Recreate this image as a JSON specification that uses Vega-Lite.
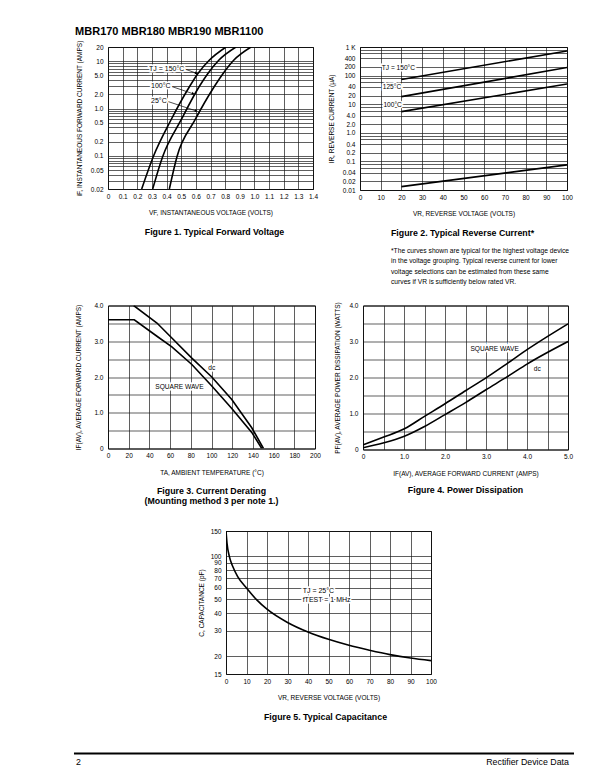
{
  "$schema": "https://vega.github.io/schema/vega-lite/v6.json",
  "background": "white",
  "padding": {"left": 73, "top": 25, "right": 5, "bottom": 5},
  "title": {"text": "MBR170 MBR180 MBR190 MBR1100", "anchor": "start", "frame": "bounds", "orient": "top", "dx": 2, "font": "Liberation Sans", "fontSize": 11, "fontWeight": "bold", "color": "black", "offset": 3},
  "config": {
    "view": {"stroke": "black", "strokeWidth": 1},
    "axis": {"domain": false, "ticks": false, "grid": true, "gridColor": "#1a1a1a", "gridWidth": 0.7, "gridOpacity": 1, "labelFont": "Liberation Sans", "labelFontSize": 6.5, "labelColor": "black", "labelOverlap": false, "labelFlush": false, "titleFont": "Liberation Sans", "titleFontSize": 6.5, "titleFontWeight": "normal", "titleColor": "black"},
    "axisX": {"labelPadding": 4, "titlePadding": 10},
    "axisY": {"labelPadding": 5, "titlePadding": 8},
    "title": {"font": "Liberation Sans", "fontSize": 8.8, "fontWeight": "bold", "color": "black", "orient": "bottom", "offset": 10, "anchor": "middle", "frame": "group"},
    "line": {"color": "black", "strokeWidth": 1.6},
    "text": {"font": "Liberation Sans", "fontSize": 6.6, "color": "black"}
  },
  "datasets": {
    "f1c": [
      {"s": "150", "x": 0.230, "y": 0.02}, {"s": "150", "x": 0.309, "y": 0.0962}, {"s": "150", "x": 0.430, "y": 0.574}, {"s": "150", "x": 0.555, "y": 2.857}, {"s": "150", "x": 0.613, "y": 5.46}, {"s": "150", "x": 0.693, "y": 10.62}, {"s": "150", "x": 0.806, "y": 20},
      {"s": "100", "x": 0.305, "y": 0.02}, {"s": "100", "x": 0.373, "y": 0.0962}, {"s": "100", "x": 0.499, "y": 0.574}, {"s": "100", "x": 0.621, "y": 2.857}, {"s": "100", "x": 0.681, "y": 5.46}, {"s": "100", "x": 0.758, "y": 10.62}, {"s": "100", "x": 0.874, "y": 20},
      {"s": "25", "x": 0.419, "y": 0.02}, {"s": "25", "x": 0.471, "y": 0.0962}, {"s": "25", "x": 0.594, "y": 0.574}, {"s": "25", "x": 0.724, "y": 2.857}, {"s": "25", "x": 0.785, "y": 5.46}, {"s": "25", "x": 0.860, "y": 10.62}, {"s": "25", "x": 0.977, "y": 20}
    ],
    "f1a": [
      {"s": "a150", "p": "start", "x": 0.528, "y": 6.79}, {"s": "a150", "p": "end", "x": 0.603, "y": 5.6},
      {"s": "a100", "p": "start", "x": 0.435, "y": 2.93}, {"s": "a100", "p": "end", "x": 0.582, "y": 2.05},
      {"s": "a25", "p": "start", "x": 0.41, "y": 1.41}, {"s": "a25", "p": "end", "x": 0.603, "y": 0.89}
    ],
    "f1t": [
      {"x": 0.28, "y": 7.0, "t": "TJ = 150°C"},
      {"x": 0.294, "y": 3.0, "t": "100°C"},
      {"x": 0.294, "y": 1.46, "t": "25°C"}
    ],
    "f2c": [
      {"s": "150", "x": 20, "y": 73.5}, {"s": "150", "x": 100, "y": 726},
      {"s": "125", "x": 20, "y": 18.4}, {"s": "125", "x": 100, "y": 191},
      {"s": "100", "x": 20, "y": 5.5}, {"s": "100", "x": 100, "y": 50.6},
      {"s": "25", "x": 20, "y": 0.0131}, {"s": "25", "x": 100, "y": 0.0759}
    ],
    "f2t": [
      {"x": 10.5, "y": 190, "t": "TJ = 150°C"},
      {"x": 11, "y": 39, "t": "125°C"},
      {"x": 11.3, "y": 9.3, "t": "100°C"}
    ],
    "f3c": [
      {"s": "dc", "x": 24.8, "y": 4.0}, {"s": "dc", "x": 47.3, "y": 3.51}, {"s": "dc", "x": 61.7, "y": 3.09}, {"s": "dc", "x": 81, "y": 2.53}, {"s": "dc", "x": 100.3, "y": 2.0}, {"s": "dc", "x": 119.6, "y": 1.37}, {"s": "dc", "x": 138.9, "y": 0.58}, {"s": "dc", "x": 150.2, "y": 0},
      {"s": "sq", "x": 0, "y": 3.6}, {"s": "sq", "x": 25.4, "y": 3.6}, {"s": "sq", "x": 47.3, "y": 3.14}, {"s": "sq", "x": 61.7, "y": 2.84}, {"s": "sq", "x": 81, "y": 2.35}, {"s": "sq", "x": 100.3, "y": 1.75}, {"s": "sq", "x": 119.6, "y": 1.12}, {"s": "sq", "x": 138.9, "y": 0.45}, {"s": "sq", "x": 148.6, "y": 0}
    ],
    "f3t": [
      {"x": 100.3, "y": 2.26, "t": "dc"},
      {"x": 69, "y": 1.72, "t": "SQUARE WAVE"}
    ],
    "f4c": [
      {"s": "sq", "x": 0, "y": 0.13}, {"s": "sq", "x": 0.49, "y": 0.34}, {"s": "sq", "x": 1.01, "y": 0.574}, {"s": "sq", "x": 1.5, "y": 0.92}, {"s": "sq", "x": 2.0, "y": 1.27}, {"s": "sq", "x": 2.51, "y": 1.64}, {"s": "sq", "x": 3.0, "y": 1.99}, {"s": "sq", "x": 3.53, "y": 2.40}, {"s": "sq", "x": 4.01, "y": 2.78}, {"s": "sq", "x": 5.0, "y": 3.49},
      {"s": "dc", "x": 0, "y": 0.05}, {"s": "dc", "x": 0.49, "y": 0.18}, {"s": "dc", "x": 1.01, "y": 0.37}, {"s": "dc", "x": 1.5, "y": 0.64}, {"s": "dc", "x": 2.0, "y": 0.97}, {"s": "dc", "x": 2.51, "y": 1.31}, {"s": "dc", "x": 3.0, "y": 1.66}, {"s": "dc", "x": 3.53, "y": 2.03}, {"s": "dc", "x": 4.01, "y": 2.38}, {"s": "dc", "x": 5.0, "y": 3.0}
    ],
    "f4t": [
      {"x": 3.21, "y": 2.8, "t": "SQUARE WAVE"},
      {"x": 4.25, "y": 2.24, "t": "dc"}
    ],
    "f5c": [
      {"x": 0, "y": 150}, {"x": 0.5, "y": 123}, {"x": 1.6, "y": 100}, {"x": 3.25, "y": 85}, {"x": 5.7, "y": 72}, {"x": 10, "y": 60}, {"x": 15, "y": 49.5}, {"x": 20, "y": 42.6}, {"x": 30, "y": 34.4}, {"x": 40, "y": 29.5}, {"x": 50, "y": 26.2}, {"x": 60, "y": 23.8}, {"x": 70, "y": 22}, {"x": 80, "y": 20.5}, {"x": 90, "y": 19.4}, {"x": 100, "y": 18.6}
    ],
    "f5t": [
      {"x": 37.4, "y": 57.5, "t": "TJ = 25°C"},
      {"x": 37.4, "y": 49, "t": "fTEST = 1 MHz"}
    ],
    "footRule": [{"a": -7.3, "b": 100, "c": 1}],
    "footText": [
      {"x": -6.87, "y": 0, "t": "2"},
      {"x": 98.9, "y": 0, "t": "Rectifier Device Data"}
    ]
  },
  "vconcat": [
    {
      "vconcat": [
        {
          "vconcat": [
            {
              "hconcat": [
                {
                  "width": 205, "height": 142,
                  "title": {"text": "Figure 1. Typical Forward Voltage", "dx": 4, "offset": 12},
                  "encoding": {
                    "x": {"field": "x", "type": "quantitative", "scale": {"domain": [0, 1.4], "nice": false, "zero": false},
                      "axis": {"title": "VF, INSTANTANEOUS VOLTAGE (VOLTS)", "values": [0, 0.1, 0.2, 0.3, 0.4, 0.5, 0.6, 0.7, 0.8, 0.9, 1, 1.1, 1.2, 1.3, 1.4], "labelExpr": "datum.value == 0 ? '0' : format(datum.value, '.1f')"}},
                    "y": {"field": "y", "type": "quantitative", "scale": {"type": "log", "domain": [0.02, 20], "nice": false},
                      "axis": {"title": "iF, INSTANTANEOUS FORWARD CURRENT (AMPS)", "values": [0.02, 0.03, 0.04, 0.05, 0.06, 0.07, 0.08, 0.09, 0.1, 0.2, 0.3, 0.4, 0.5, 0.6, 0.7, 0.8, 0.9, 1, 2, 3, 4, 5, 6, 7, 8, 9, 10, 20],
                        "labelExpr": "indexof([0.02, 0.05, 0.1, 0.2, 0.5, 1, 2, 5, 10, 20], datum.value) < 0 ? '' : datum.value >= 10 ? format(datum.value, 'd') : datum.value >= 1 ? format(datum.value, '.1f') : format(datum.value, '.2~f')"}}
                  },
                  "layer": [
                    {"data": {"name": "f1c"}, "mark": {"type": "line", "interpolate": "monotone", "clip": true}, "encoding": {"detail": {"field": "s"}}},
                    {"data": {"name": "f1a"}, "mark": {"type": "line", "strokeWidth": 0.7, "color": "black"}, "encoding": {"detail": {"field": "s"}}},
                    {"data": {"name": "f1a"}, "transform": [{"filter": "datum.p == 'end'"}], "mark": {"type": "point", "shape": "triangle-right", "filled": true, "color": "black", "opacity": 1, "size": 10, "angle": 20}},
                    {"data": {"name": "f1t"}, "mark": {"type": "text", "align": "left", "baseline": "middle", "fontSize": 7, "fill": "white", "stroke": "white", "strokeWidth": 3}, "encoding": {"text": {"field": "t"}}},
                    {"data": {"name": "f1t"}, "mark": {"type": "text", "align": "left", "baseline": "middle", "fontSize": 7}, "encoding": {"text": {"field": "t"}}}
                  ]
                },
                {
                  "width": 207, "height": 143,
                  "title": {"text": "Figure 2. Typical Reverse Current*", "anchor": "start", "dx": 31, "offset": 12,
                    "subtitle": ["*The curves shown are typical for the highest voltage device", "in the voltage grouping. Typical reverse current for lower", "voltage selections can be estimated from these same", "curves if VR is sufficiently below rated VR."],
                    "subtitleFont": "Liberation Sans", "subtitleFontSize": 6.7, "subtitleColor": "black", "subtitleLineHeight": 10.5, "subtitlePadding": 10},
                  "encoding": {
                    "x": {"field": "x", "type": "quantitative", "scale": {"domain": [0, 100], "nice": false, "zero": false},
                      "axis": {"title": "VR, REVERSE VOLTAGE (VOLTS)", "values": [0, 10, 20, 30, 40, 50, 60, 70, 80, 90, 100], "format": "d"}},
                    "y": {"field": "y", "type": "quantitative", "scale": {"type": "log", "domain": [0.01, 1000], "nice": false},
                      "axis": {"title": "IR, REVERSE CURRENT (μA)", "values": [0.01, 0.02, 0.04, 0.06, 0.08, 0.1, 0.2, 0.4, 0.6, 0.8, 1, 2, 4, 6, 8, 10, 20, 40, 60, 80, 100, 200, 400, 600, 800, 1000],
                        "labelExpr": "indexof([0.01, 0.02, 0.04, 0.1, 0.2, 0.4, 1, 2, 4, 10, 20, 40, 100, 200, 400, 1000], datum.value) < 0 ? '' : datum.value == 1000 ? '1 K' : datum.value >= 10 ? format(datum.value, 'd') : datum.value >= 1 ? format(datum.value, '.1f') : format(datum.value, '.2~f')"}}
                  },
                  "layer": [
                    {"data": {"name": "f2c"}, "mark": {"type": "line", "clip": true}, "encoding": {"detail": {"field": "s"}}},
                    {"data": {"name": "f2t"}, "mark": {"type": "text", "align": "left", "baseline": "middle", "fill": "white", "stroke": "white", "strokeWidth": 3}, "encoding": {"text": {"field": "t"}}},
                    {"data": {"name": "f2t"}, "mark": {"type": "text", "align": "left", "baseline": "middle"}, "encoding": {"text": {"field": "t"}}}
                  ]
                }
              ],
              "spacing": 8
            },
            {
              "hconcat": [
                {
                  "width": 207, "height": 143,
                  "title": {"text": ["Figure 3. Current Derating", "(Mounting method 3 per note 1.)"], "lineHeight": 10.7, "offset": 11},
                  "encoding": {
                    "x": {"field": "x", "type": "quantitative", "scale": {"domain": [0, 200], "nice": false, "zero": false},
                      "axis": {"title": "TA, AMBIENT TEMPERATURE (°C)", "values": [0, 20, 40, 60, 80, 100, 120, 140, 160, 180, 200], "format": "d"}},
                    "y": {"field": "y", "type": "quantitative", "scale": {"domain": [0, 4], "nice": false},
                      "axis": {"title": "IF(AV), AVERAGE FORWARD CURRENT (AMPS)", "titlePadding": 12, "values": [0, 0.5, 1, 1.5, 2, 2.5, 3, 3.5, 4],
                        "labelExpr": "datum.value == 0 ? '0' : (datum.value % 1 == 0 ? format(datum.value, '.1f') : '')"}}
                  },
                  "layer": [
                    {"data": {"name": "f3c"}, "mark": {"type": "line", "clip": true}, "encoding": {"detail": {"field": "s"}}},
                    {"data": {"name": "f3t"}, "mark": {"type": "text", "align": "center", "baseline": "middle", "fill": "white", "stroke": "white", "strokeWidth": 3}, "encoding": {"text": {"field": "t"}}},
                    {"data": {"name": "f3t"}, "mark": {"type": "text", "align": "center", "baseline": "middle"}, "encoding": {"text": {"field": "t"}}}
                  ]
                },
                {
                  "width": 205, "height": 144,
                  "title": {"text": "Figure 4. Power Dissipation", "offset": 9},
                  "encoding": {
                    "x": {"field": "x", "type": "quantitative", "scale": {"domain": [0, 5], "nice": false, "zero": false},
                      "axis": {"title": "IF(AV), AVERAGE FORWARD CURRENT (AMPS)", "values": [0, 0.5, 1, 1.5, 2, 2.5, 3, 3.5, 4, 4.5, 5],
                        "labelExpr": "datum.value == 0 ? '0' : (datum.value % 1 == 0 ? format(datum.value, '.1f') : '')"}},
                    "y": {"field": "y", "type": "quantitative", "scale": {"domain": [0, 4], "nice": false},
                      "axis": {"title": "PF(AV), AVERAGE POWER DISSIPATION (WATTS)", "values": [0, 0.5, 1, 1.5, 2, 2.5, 3, 3.5, 4],
                        "labelExpr": "datum.value == 0 ? '0' : (datum.value % 1 == 0 ? format(datum.value, '.1f') : '')"}}
                  },
                  "layer": [
                    {"data": {"name": "f4c"}, "mark": {"type": "line", "interpolate": "monotone", "clip": true}, "encoding": {"detail": {"field": "s"}}},
                    {"data": {"name": "f4t"}, "mark": {"type": "text", "align": "center", "baseline": "middle", "fill": "white", "stroke": "white", "strokeWidth": 3}, "encoding": {"text": {"field": "t"}}},
                    {"data": {"name": "f4t"}, "mark": {"type": "text", "align": "center", "baseline": "middle"}, "encoding": {"text": {"field": "t"}}}
                  ]
                }
              ],
              "spacing": 13
            }
          ],
          "spacing": 13.5
        },
        {
          "hconcat": [
            {"width": 89, "height": 1, "view": {"stroke": null}, "data": {"values": [{"n": 0}]}, "mark": {"type": "text", "text": ""}},
            {
              "width": 205, "height": 143,
              "title": {"text": "Figure 5. Typical Capacitance", "dx": -3, "offset": 12},
              "encoding": {
                "x": {"field": "x", "type": "quantitative", "scale": {"domain": [0, 100], "nice": false, "zero": false},
                  "axis": {"title": "VR, REVERSE VOLTAGE (VOLTS)", "values": [0, 10, 20, 30, 40, 50, 60, 70, 80, 90, 100], "format": "d"}},
                "y": {"field": "y", "type": "quantitative", "scale": {"type": "log", "domain": [15, 150], "nice": false},
                  "axis": {"title": "C, CAPACITANCE (pF)", "titlePadding": 6, "values": [15, 20, 30, 40, 50, 60, 70, 80, 90, 100, 150], "format": "d"}}
              },
              "layer": [
                {"data": {"name": "f5c"}, "mark": {"type": "line", "interpolate": "monotone", "clip": true}},
                {"data": {"name": "f5t"}, "mark": {"type": "text", "align": "left", "baseline": "middle", "fontSize": 7, "fill": "white", "stroke": "white", "strokeWidth": 3}, "encoding": {"text": {"field": "t"}}},
                {"data": {"name": "f5t"}, "mark": {"type": "text", "align": "left", "baseline": "middle", "fontSize": 7}, "encoding": {"text": {"field": "t"}}}
              ]
            }
          ],
          "spacing": 0
        }
      ],
      "spacing": 20
    },
    {
      "width": 466, "height": 8,
      "view": {"stroke": null},
      "layer": [
        {"data": {"name": "footRule"}, "mark": {"type": "rule", "strokeWidth": 1.8, "color": "black"},
          "encoding": {
            "x": {"field": "a", "type": "quantitative", "scale": {"domain": [0, 100], "nice": false, "zero": false}, "axis": null},
            "x2": {"field": "b"},
            "y": {"field": "c", "type": "quantitative", "scale": {"domain": [0, 1], "nice": false}, "axis": null}
          }},
        {"data": {"name": "footText"}, "transform": [{"filter": "datum.t == '2'"}], "mark": {"type": "text", "align": "left", "baseline": "middle", "fontSize": 8.8},
          "encoding": {
            "x": {"field": "x", "type": "quantitative", "axis": null},
            "y": {"field": "y", "type": "quantitative", "axis": null},
            "text": {"field": "t"}
          }},
        {"data": {"name": "footText"}, "transform": [{"filter": "datum.t != '2'"}], "mark": {"type": "text", "align": "right", "baseline": "middle", "fontSize": 8.8},
          "encoding": {
            "x": {"field": "x", "type": "quantitative", "axis": null},
            "y": {"field": "y", "type": "quantitative", "axis": null},
            "text": {"field": "t"}
          }}
      ]
    }
  ],
  "spacing": 29.5
}
